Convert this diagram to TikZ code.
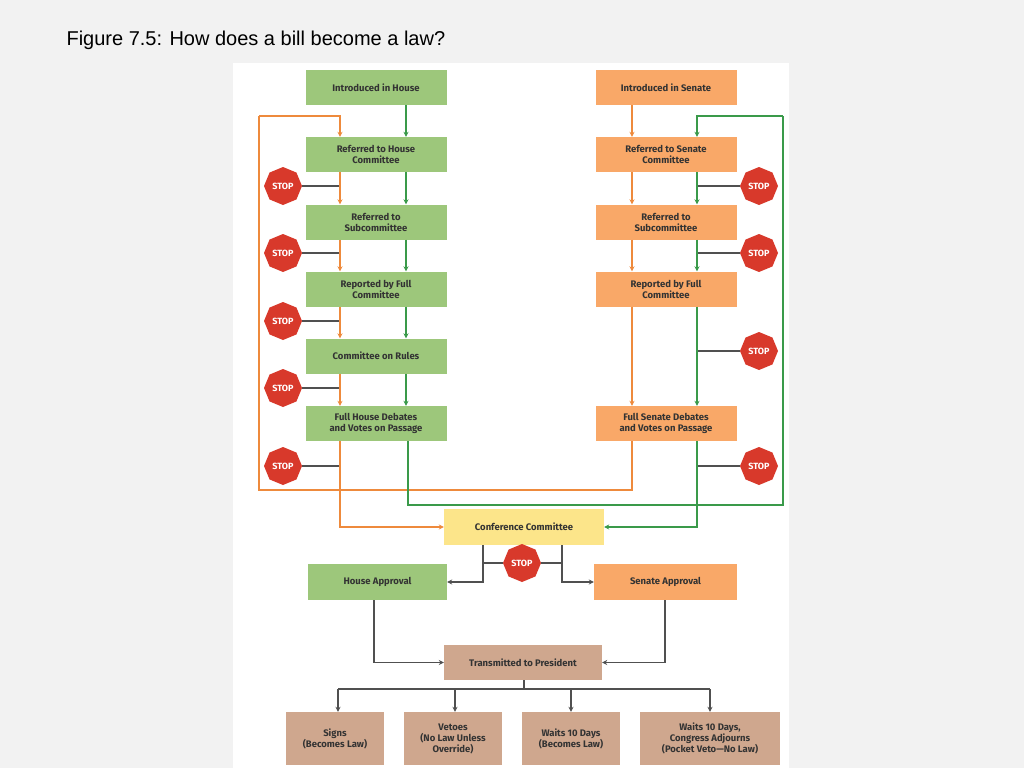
\documentclass[tikz,border=0pt]{standalone}
\usepackage{fontspec}
\setmainfont{Liberation Sans}
\newfontfamily\boxfont{Fira Sans}
\usetikzlibrary{arrows.meta,shapes.geometric}
\definecolor{gbox}{HTML}{9DC77B}
\definecolor{obox}{HTML}{F9A868}
\definecolor{tbox}{HTML}{CFA78E}
\definecolor{ybox}{HTML}{FCE58A}
\definecolor{oline}{HTML}{EE8A3C}
\definecolor{gline}{HTML}{3A9A4A}
\definecolor{kline}{HTML}{505050}
\definecolor{stopred}{HTML}{D8392B}
\tikzset{
 bx/.style={draw=none,minimum height=35pt,align=center,font=\boxfont\bfseries\fontsize{9.5}{11}\selectfont,text=black!80,inner sep=1pt},
 hb/.style={bx,fill=gbox,minimum width=141pt},
 sb/.style={bx,fill=obox,minimum width=141pt},
 stopsign/.style={regular polygon,regular polygon sides=8,fill=stopred,minimum size=38pt,inner sep=0pt,text=white,font=\boxfont\bfseries\fontsize{9}{9}\selectfont,shape border rotate=22.5},
 ol/.style={draw=oline,line width=1.4pt},
 gl/.style={draw=gline,line width=1.4pt},
 kl/.style={draw=kline,line width=1.6pt},
 ar/.style={-{Stealth[length=5pt,width=5pt]}},
}
\begin{document}
\begin{tikzpicture}[x=1pt,y=-1pt]
\fill[black!5] (0,0) rectangle (1024,768);
\useasboundingbox (0,0) rectangle (1024,768);
\fill[white] (233,63) rectangle (789,768);
\node[anchor=west,font=\fontsize{20}{24}\selectfont] (title) at (63,40) {Figure 7.5: How does a bill become a law?};
\node[hb] (h1) at (376,87.5) {Introduced in House};
\node[hb] (h2) at (376,154.5) {Referred to House\\Committee};
\node[hb] (h3) at (376,222) {Referred to\\Subcommittee};
\node[hb] (h4) at (376,289) {Reported by Full\\Committee};
\node[hb] (h5) at (376,356) {Committee on Rules};
\node[hb] (h6) at (376,423.5) {Full House Debates\\and Votes on Passage};
\node[sb] (s1) at (666,87.5) {Introduced in Senate};
\node[sb] (s2) at (666,154.5) {Referred to Senate\\Committee};
\node[sb] (s3) at (666,222) {Referred to\\Subcommittee};
\node[sb] (s4) at (666,289) {Reported by Full\\Committee};
\node[sb] (s6) at (666,423.5) {Full Senate Debates\\and Votes on Passage};
\node[bx,fill=ybox,minimum width=160pt,minimum height=36pt] (cc) at (524,527) {Conference Committee};
\node[hb,minimum width=139pt,minimum height=36pt] (ha) at (377.5,582) {House Approval};
\node[sb,minimum width=143pt,minimum height=36pt] (sa) at (665.5,582) {Senate Approval};
\node[bx,fill=tbox,minimum width=158pt] (tp) at (523,662.5) {Transmitted to President};
\node[bx,fill=tbox,minimum width=98pt,minimum height=53pt] (p1) at (335,738.5) {Signs\\(Becomes Law)};
\node[bx,fill=tbox,minimum width=98pt,minimum height=53pt] (p2) at (453,738.5) {Vetoes\\(No Law Unless\\Override)};
\node[bx,fill=tbox,minimum width=98pt,minimum height=53pt] (p3) at (571,738.5) {Waits 10 Days\\(Becomes Law)};
\node[bx,fill=tbox,minimum width=140pt,minimum height=53pt] (p4) at (710,738.5) {Waits 10 Days,\\Congress Adjourns\\(Pocket Veto\textemdash No Law)};
\foreach \n/\y in {a/186,b/253,c/321,d/388,e/466}{
  \node[stopsign] (L\n) at (283,\y) {STOP};
  \draw[kl] (L\n.east) -- (340,\y);
}
\foreach \n/\y in {a/186,b/253,c/351,e/466}{
  \node[stopsign] (R\n) at (759,\y) {STOP};
  \draw[kl] (R\n.west) -- (697,\y);
}
\node[stopsign] (cs) at (522,563) {STOP};
\draw[gl,ar] (h1.south -| 406,0) -- (h2.north -| 406,0);
\foreach \a/\b in {h2/h3,h3/h4,h4/h5,h5/h6}{
  \draw[gl,ar] (\a.south -| 406,0) -- (\b.north -| 406,0);
  \draw[ol,ar] (\a.south -| 340,0) -- (\b.north -| 340,0);
}
\coordinate (olt) at (259,116);
\draw[ol,ar] (olt) -| (h2.north -| 340,0);
\draw[ol,ar] (s1.south -| 632,0) -- (s2.north -| 632,0);
\foreach \a/\b in {s2/s3,s3/s4,s4/s6}{
  \draw[gl,ar] (\a.south -| 697,0) -- (\b.north -| 697,0);
  \draw[ol,ar] (\a.south -| 632,0) -- (\b.north -| 632,0);
}
\coordinate (grt) at (783,116);
\draw[gl,ar] (grt) -| (s2.north -| 697,0);
\draw[ol] (s6.south -| 632,0) |- (259,490) -- (olt);
\draw[gl] (h6.south -| 408,0) |- (783,505) -- (grt);
\draw[ol,ar] (h6.south -| 340,0) |- (cc.west);
\draw[gl,ar] (s6.south -| 697,0) |- (cc.east);
\draw[kl,ar] (cc.south -| 483,0) |- (ha.east);
\draw[kl,ar] (cc.south -| 562,0) |- (sa.west);
\draw[kl] (483,563) -- (cs.west);
\draw[kl] (cs.east) -- (562,563);
\draw[kl,ar] (ha.south -| 374,0) |- (tp.west);
\draw[kl,ar] (sa.south -| 665,0) |- (tp.east);
\coordinate (br) at (524,689);
\draw[kl] (tp.south -| br) -- (br);
\draw[kl] (338,689) -- (710,689);
\draw[kl,ar] (338,689) -- (p1.north -| 338,0);
\draw[kl,ar] (455,689) -- (p2.north -| 455,0);
\draw[kl,ar] (571,689) -- (p3.north -| 571,0);
\draw[kl,ar] (710,689) -- (p4.north -| 710,0);
\end{tikzpicture}
\end{document}
